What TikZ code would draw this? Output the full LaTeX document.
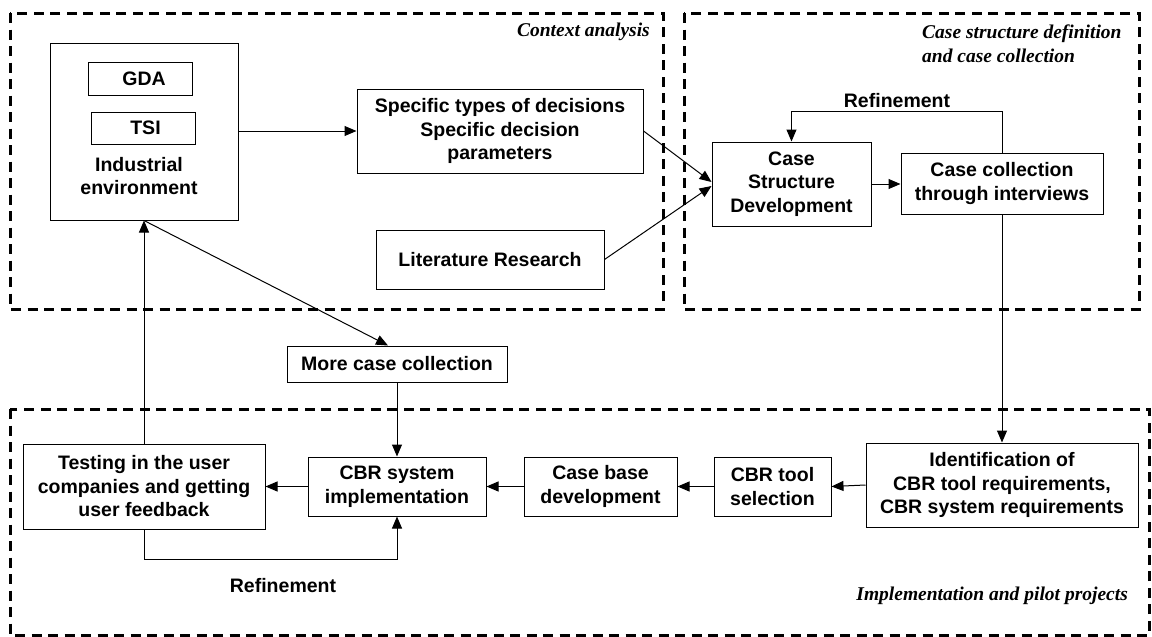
\documentclass[tikz,border=0pt]{standalone}
\usepackage{fontspec}
\newfontfamily\arialf{Liberation Sans}
\newfontfamily\timesf{Liberation Serif}
\usetikzlibrary{arrows.meta}
\begin{document}
\begin{tikzpicture}[x=1pt,y=-1pt,
  box/.style={draw,line width=1pt,inner sep=0pt,align=center,font=\arialf\bfseries\fontsize{19.5}{23.5}\selectfont},
  region/.style={draw,line width=3pt,dash pattern=on 10pt off 6.5pt},
  arr/.style={line width=1pt,-{Triangle[length=12pt,width=10pt]}},
  rlabel/.style={inner sep=0pt,font=\timesf\bfseries\itshape\fontsize{19.5}{24}\selectfont},
  blabel/.style={inner sep=0pt,align=center,font=\arialf\bfseries\fontsize{19.5}{23.5}\selectfont}]
\useasboundingbox (0,0) rectangle (1152,637);

% regions
\draw[region] (10,13) rectangle (663,309);
\draw[region] (684,13) rectangle (1139,309);
\draw[region] (10,409) rectangle (1149,635);
\node[rlabel,anchor=east] (lctx) at (650,32) {Context analysis};
\node[rlabel,anchor=west,align=left] (lcase) at (922,44) {Case structure definition\\and case collection};
\node[rlabel,anchor=east] (limpl) at (1128,596) {Implementation and pilot projects};

% nodes
\node[box,minimum width=188pt,minimum height=177pt] (ind) at (144,131.5) {};
\node[box,minimum width=104pt,minimum height=33pt] (gda) at (140,78.5) {\hspace*{8pt}GDA};
\node[box,minimum width=104pt,minimum height=32pt] (tsi) at (143,128) {\hspace*{5pt}TSI};
\node[blabel] (indtxt) at (139,176) {Industrial\\environment};
\node[box,minimum width=286pt,minimum height=84pt] (spec) at (500,131) {Specific types of decisions\\Specific decision\\parameters};
\node[box,minimum width=228pt,minimum height=59pt] (lit) at (490,259.5) {Literature Research};
\node[box,minimum width=159pt,minimum height=84pt] (csd) at (791.5,184) {Case\\Structure\\Development};
\node[box,minimum width=202pt,minimum height=61pt] (cc) at (1002,183.5) {Case collection\\through interviews};
\node[box,minimum width=220pt,minimum height=36pt] (more) at (397,364) {More case collection};
\node[box,minimum width=178pt,minimum height=59pt] (impl) at (397,486.5) {CBR system\\implementation};
\node[box,minimum width=242pt,minimum height=85pt] (test) at (144,486.5) {Testing in the user\\companies and getting\\user feedback};
\node[box,minimum width=153pt,minimum height=59pt] (cbd) at (600.5,486.5) {Case base\\development};
\node[box,minimum width=117pt,minimum height=59pt] (tool) at (772.5,486.5) {CBR tool\\selection};
\node[box,minimum width=272pt,minimum height=84pt] (ident) at (1002,485) {Identification of\\CBR tool requirements,\\CBR system requirements};
\node[blabel] (ref1) at (897,101) {Refinement};
\node[blabel] (ref2) at (283,586) {Refinement};

% connectors
\draw[arr] (ind.east |- spec.west) -- (spec.west);
\draw[arr] (spec.east) -- ([yshift=2pt]csd.west);
\draw[arr] (lit.east) -- ([yshift=-2pt]csd.west);
\draw[arr] (csd.east) -- (csd.east -| cc.west);
\draw[arr] (cc.north) |- ([yshift=30pt]csd.north) -- (csd.north);
\draw[arr] (cc.south) -- (ident.north);
\draw[arr] (ident.west) -- (tool.east);
\draw[arr] (tool.west) -- (cbd.east);
\draw[arr] (cbd.west) -- (impl.east);
\draw[arr] (impl.west) -- (test.east);
\draw[arr] (more.south) -- (impl.north);
\draw[arr] (test.south) |- ([yshift=-43pt]impl.south) -- (impl.south);
\draw[arr] (test.north) -- (ind.south);
\draw[arr] (ind.south) -- ([xshift=-9pt]more.north);
\end{tikzpicture}
\end{document}
